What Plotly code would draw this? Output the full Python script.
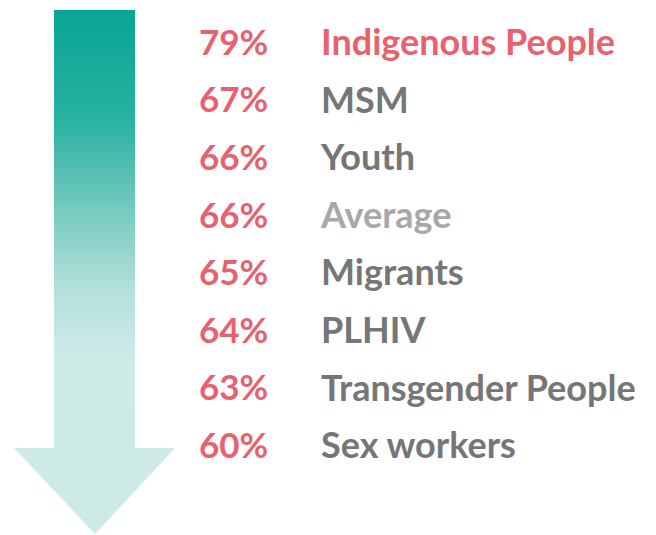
import plotly.graph_objects as go

categories = ["Indigenous People", "MSM", "Youth", "Average", "Migrants",
              "PLHIV", "Transgender People", "Sex workers"]
values = [79, 67, 66, 66, 65, 64, 63, 60]

RED = "#e8616f"
GRAY = "#767676"
LIGHT = "#a8a8a8"
label_colors = [RED if c == "Indigenous People" else (LIGHT if c == "Average" else GRAY)
                for c in categories]

W, H = 656, 535
OFF = 8  # page body margin
idx = list(range(len(categories)))

fig = go.Figure()
fig.add_trace(go.Scatter(
    x=[199 - OFF] * len(values), y=idx, mode="text",
    text=[f"{v}%" for v in values], textposition="middle right",
    textfont=dict(family="Lato", size=35, color=RED, weight="bold"),
    hoverinfo="skip", showlegend=False))
fig.add_trace(go.Scatter(
    x=[321 - OFF] * len(categories), y=idx, mode="text",
    text=categories, textposition="middle right",
    textfont=dict(family="Lato", size=36, color=label_colors, weight="bold"),
    hoverinfo="skip", showlegend=False))

# gradient arrow (pixel positions of the reference page)
stops = [(10, (10, 165, 148)), (120, (40, 178, 162)), (217, (126, 204, 194)),
         (290, (180, 224, 219)), (360, (207, 235, 232)), (448, (206, 234, 231))]

def col(y):
    for (y0, c0), (y1, c1) in zip(stops, stops[1:]):
        if y0 <= y <= y1:
            t = (y - y0) / (y1 - y0)
            return "rgb(%d,%d,%d)" % tuple(round(a + (b - a) * t) for a, b in zip(c0, c1))
    return "rgb(%d,%d,%d)" % stops[-1][1]

def px(x):
    return (x - OFF) / W

def py(y):
    return 1 - (y - OFF) / H

shapes = []
x0, x1 = 54, 135
for y in range(10, 449, 2):
    shapes.append(dict(type="rect", xref="paper", yref="paper",
                       x0=px(x0), x1=px(x1), y0=py(y + 2.5), y1=py(y),
                       fillcolor=col(y), line=dict(width=0), layer="below"))
shapes.append(dict(type="path", xref="paper", yref="paper",
                   path=f"M {px(14)} {py(448)} L {px(175)} {py(448)} L {px(95)} {py(534)} Z",
                   fillcolor="rgb(206,234,231)", line=dict(width=0), layer="below"))

slope = 57.6
ytop = -(46 - OFF) / slope
ybot = ytop + H / slope
fig.update_layout(
    width=W, height=H, margin=dict(l=0, r=0, t=0, b=0),
    paper_bgcolor="white", plot_bgcolor="white",
    xaxis=dict(range=[0, W], visible=False, fixedrange=True),
    yaxis=dict(range=[ybot, ytop], visible=False, fixedrange=True),
    shapes=shapes,
)
fig.write_html("out.html")
